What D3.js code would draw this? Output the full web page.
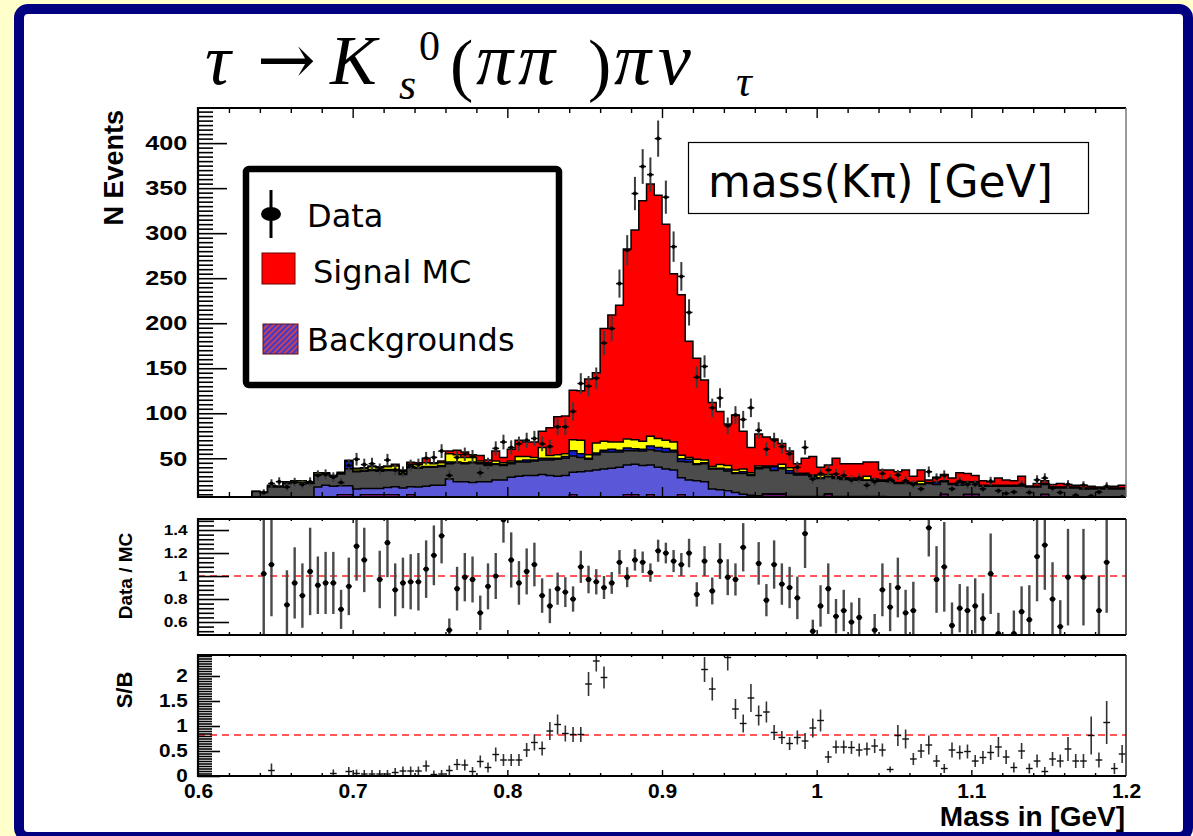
<!DOCTYPE html>
<html>
<head>
<meta charset="utf-8">
<script src="https://cdn.jsdelivr.net/npm/d3@7"></script>
<style>
  body { margin: 0; background: #ffffcc; }
  svg { display: block; }
</style>
</head>
<body>
<svg id="chart" width="1193" height="836"></svg>
<script>
// 120 bins of 0.005 GeV from 0.6 to 1.2 GeV
const binLo = 0.6, binW = 0.005;
const binEdges = d3.range(121).map(i => binLo + i * binW);

// stacked MC components, bottom to top (events per bin)
const bgMagenta = [0,0,0,0,0,0,0,6,6,6, 6,6,6,6,6,6,6.5,6.5,9.5,9.5, 6.5,9.5,9.5,9.5,9.5,9.5,6.5,9.5,6.5,6.5,
  6.5,6.5,6.5,6.5,6.5,6.5,6.5,6.5,6.5,6.5, 6.5,6.5,6.5,6.5,6.5,6.5,6.5,6.5,9.5,6.5, 6.5,6.5,6.5,6.5,6.5,9.5,9.5,6.5,9.5,6.5,
  6.5,6.5,9.5,6.5,6.5,6.5,6.5,6.5,6.5,6.5, 6.5,6.5,6.5,9.5,9.5,9.5,6.5,6.5,6.5,6.5, 6.5,9.5,6.5,6.5,6.5,6.5,6.5,6.5,6.5,6.5,
  6.5,6.5,6.5,6.5,6.5,6.5,9.5,6.5,6.5,9.5, 9.5,6.5,6.5,6.5,6.5,6.5,6.5,6.5,6.5,9.5, 6.5,6.5,6.5,6.5,6.5,6.5,6.5,6.5,6.5,6.5];
const bgSlate = [0,0,0,0,0,0,0,0,0,0, 0,0,0,0,0,12,13.5,12.5,10,10, 9.5,7,7,7,8,9,10.5,9,11.5,12.5,
  13.5,13.5,20.5,17.5,17.5,16.5,17.5,17.5,19.5,19.5, 22.5,23.5,24.5,24.5,25.5,24.5,23.5,24.5,25,28.5, 29.5,30.5,31.5,32.5,33.5,33,34,35.5,33,33.5,
  31.5,30.5,19,19.5,18.5,17.5,9.5,8.5,7.5,5.5, 3.5,2.5,2,1,1,1,1,1,1,1, 1,1,1,1,1,1,1,1,1,0.5,
  0.5,0.5,0.5,0.5,0.5,0.5,0.5,0.5,0.5,0.5, 0.5,0.5,0.5,0.5,0.5,0.5,0.5,0.5,0.5,0.5, 0.5,0.5,0.5,0.5,0.5,0.5,0.5,0.5,0.5,0.5];
const bgGray = [0,0,0,0,0,0,0,7,6,12, 12,16,17,17,16,14,13,11,13,19, 19,19,20,19,19,18,15,21,21,21,
  20,21,17,21,20,22,20,18,17,16, 15,16,15,16,16,17,19,19,18,16, 13,17,19,18,17,16,15,16,17,18,
  19,20,18,20,18,20,22,23,22,21, 23,22,30,29,26,28,26,24,24,22, 20,19,20,19,19,18,18,18,17,17,
  15,15,15,14,15,14,14,14,13,13, 13,12,12,12,12,12,12,11,11,11, 10,10,10,10,9,9,9,9,9,9];
const bgNavy = [0,0,0,0,0,0,0,0,0,0, 0,0.5,0,0,0,0,0,0,0,8, 1,1,1,1,1,1,1,1,1,1,
  1,1,2,1,1,1,1,1,1,1, 1,1,2,1,2,2,1,2,6,4, 1,2,2,3,2,3,2,2,4,4,
  4,2,3,3,1,1,1,1,2,1, 2,1,1,1,4,1,3,1,1,1, 1,0.5,1,1,0.5,0.5,0.5,0.5,0.5,0.5,
  0.5,0.5,0.5,0.5,0.5,2,0.5,0.5,2,0.5, 0.5,0.5,0.5,0.5,0.5,0.5,0.5,0.5,0.5,0.5, 0.5,0.5,0.5,0.5,0.5,0.5,0.5,0.5,0.5,0.5];
const bgYellow = [0,0,0,0,0,0,0,0,0,1.5, 1,1.5,2,2,1,2,1,1,1,1, 2,2,3,3,3,4,3,3,3,4,
  3,3,9,8,6,5,2,2,3,2, 2,5,4,3,12,3,4,3,12,15, 4,11,10,8,9,10,10,9,11,10,
  9,9,4,2,5,3,2,4,4,3, 3,2,2,1,1,4,3,1,1,1, 3,2,1,1,1,1,4,1,1,1,
  0.5,1,0.5,3,0.5,0.5,0.5,0.5,1,0.5, 0.5,0.5,0.5,0.5,0.5,0.5,0.5,0.5,0.5,0.5, 0.5,0.5,0.5,0.5,0.5,0.5,0.5,0.5,0.5,0.5];
const signalMC = [0,0,0,0,0,0,0,0,0,0.5, 0,0,0,0,0,0,0,0,1,0, 1,1,1,1,1,2,1,2,2,5,
  1,2,3,5,6,3,6,3,11,6, 13,18,16,17,18,31,42,42,55,55, 84,78,125,141,152,211,233,267,280,270,
  240,187,178,129,112,89,71,59,46,61, 42,28,35.5,32,30,23,18.5,10.5,16.5,20.5, 8.5,10.5,20.5,15.5,16,17,16,19,11,11.5,
  12,13.5,7,12.5,3,5.5,7,6,11,9, 7,5,4,8,6,5,10,0,3,3, 3,4,3,2,3,2,1,0,2,3];

// data counts and their errors (null = no entry)
const dataN = [null,null,null,null,null,null,null,null,12,22, 24,18,23.5,21,24,31,32,29,23,42, 49,43,44,38,48,37,35,42,43,50,
  51,58,31,51,54.5,52,34,44,61,68, 62,66,70,72,66,63,85,85,102,133, 130,139,178,194,244,281,344,374,365,405,
  340,285,252,212,140,152,106,117,86,98, 93,106,81,60,70,63,55,40,62,27, 33,37,32.5,31,26,28,20,24,33,27,
  31.5,25,21,16,35,28,31,16,24.5,21, 21,16,24.5,14,11,12.5,21,12,26,28, 17,12,21,9,20,8,12.6,19,6,7];
const dataErr = [0,0,0,0,0,0,0,0,3.5,4.7, 4.9,4.2,4.8,4.6,4.9,5.6,5.7,5.4,4.8,6.5, 7.0,6.6,6.6,6.2,6.9,6.1,5.9,6.5,6.6,7.1,
  7.1,7.6,5.6,7.1,7.4,7.2,5.8,6.6,7.8,8.2, 7.9,8.1,8.4,8.5,8.1,7.9,9.2,9.2,10.1,11.5, 11.4,11.8,13.3,13.9,15.6,16.8,18.5,19.3,19.1,20.1,
  18.4,16.9,15.9,14.6,11.8,12.3,10.3,10.8,9.3,9.9, 9.6,10.3,9.0,7.7,8.4,7.9,7.4,6.3,7.9,5.2, 5.7,6.1,5.7,5.6,5.1,5.3,4.5,4.9,5.7,5.2,
  5.6,5.0,4.6,4.0,5.9,5.3,5.6,4.0,4.9,4.6, 4.6,4.0,4.9,3.7,3.3,3.5,4.6,3.5,5.1,5.3, 4.1,3.5,4.6,3.0,4.5,2.8,3.5,4.4,2.4,2.6];

// Data / MC ratio and its half error
const ratio = [null,null,null,null,null,null,null,null,1.02,1.10, null,0.75,0.94,0.83,1.04,0.92,0.94,0.94,0.71,0.91, 1.26,1.14,null,0.97,1.29,0.88,0.94,0.95,0.95,1.06,
  1.18,1.35,0.53,0.89,0.99,0.97,0.68,0.91,1.00,1.49, 1.14,0.94,1.04,1.10,0.83,0.74,0.89,0.86,0.80,1.08, 0.97,0.95,0.90,0.94,1.12,0.99,1.14,1.12,1.03,1.22,
  1.20,1.13,1.10,1.20,0.84,1.13,0.87,1.13,0.99,0.97, 1.25,null,1.11,0.79,1.10,0.93,0.90,0.81,1.37,0.52, 0.74,0.89,0.65,0.70,0.60,0.64,null,0.53,0.88,0.73,
  0.90,0.68,0.70,null,1.42,0.97,1.08,0.57,0.72,0.70, 0.74,0.63,1.02,0.50,null,0.50,0.69,0.62,1.17,1.27, 0.80,0.56,0.99,null,0.99,null,0.70,1.12,null,null];
const ratioErr = [0,0,0,0,0,0,0,0,0.6,0.45, 0,0.3,0.31,0.28,0.38,0.25,0.27,0.27,0.17,0.25, 0.3,0.28,0,0.25,0.3,0.23,0.22,0.24,0.25,0.25,
  0.26,0.24,0.1,0.19,0.21,0.2,0.15,0.2,0.2,0.2, 0.24,0.19,0.2,0.19,0.15,0.15,0.14,0.13,0.11,0.14, 0.12,0.11,0.10,0.095,0.106,0.087,0.093,0.093,0.08,0.096,
  0.09,0.096,0.10,0.124,0.106,0.13,0.117,0.156,0.156,0.14, 0.21,0,0.185,0.14,0.21,0.18,0.18,0.185,0.3,0.1, 0.18,0.22,0.15,0.18,0.17,0.17,0,0.14,0.23,0.21,
  0.26,0.2,0.25,0,0.25,0.29,0.39,0.2,0.21,0.21, 0.24,0.22,0.35,0.18,0,0.2,0.22,0.3,0.39,0.39, 0.32,0.23,0.42,0,0.42,0,0.3,0.44,0,0];

// signal / background and its half error
const sOverB = [null,null,null,null,null,null,null,null,null,0.11, null,null,null,null,null,null,null,0.05,null,0.09, 0.05,0.04,0.04,0.04,0.04,0.07,0.10,0.10,0.10,0.20,
  0.03,0.04,0.11,0.23,0.22,0.09,0.29,0.17,0.43,0.32, 0.32,0.32,0.52,0.67,0.55,0.90,1.03,0.85,0.83,0.83, 1.84,2.30,1.97,null,null,null,null,null,null,null,
  null,null,null,null,null,2.13,1.74,null,2.37,1.34, 1.05,1.56,1.21,1.28,0.87,0.77,0.65,0.77,0.70,0.96, 1.11,0.38,0.58,0.58,0.57,0.52,0.54,0.60,0.52,0.13,
  0.81,0.74,0.34,0.50,0.62,0.30,0.15,0.52,0.47,0.49, 0.30,0.37,0.47,0.58,0.38,0.17,0.50,0.15,0.30,0.09, 0.34,0.30,0.54,0.30,0.30,0.81,0.32,1.07,0.15,0.44];
const sOverBErr = [0,0,0,0,0,0,0,0,0,0.08, 0,0,0,0,0,0,0,0.02,0,0.03, 0.02,0.02,0.02,0.02,0.02,0.03,0.03,0.03,0.03,0.05,
  0.02,0.02,0.04,0.05,0.05,0.03,0.06,0.04,0.08,0.06, 0.06,0.06,0.08,0.1,0.08,0.12,0.14,0.1,0.09,0.09, 0.18,0.15,0.16,0,0,0,0,0,0,0,
  0,0,0,0,0,0.19,0.17,0,0.2,0.14, 0.12,0.22,0.14,0.15,0.09,0.07,0.07,0.08,0.1,0.13, 0.16,0.06,0.07,0.07,0.07,0.07,0.07,0.08,0.07,0.0,
  0.15,0.13,0.06,0.08,0.13,0.06,0.03,0.09,0.08,0.08, 0.06,0.07,0.09,0.14,0.08,0.04,0.1,0.04,0.07,0.03, 0.08,0.07,0.18,0.08,0.08,0.32,0.09,0.37,0.05,0.12];

// tick values
const xMajor = [0.6, 0.7, 0.8, 0.9, 1.0, 1.1, 1.2];
const xLabels = ["0.6", "0.7", "0.8", "0.9", "1", "1.1", "1.2"];
const mainMajor = [50, 100, 150, 200, 250, 300, 350, 400];
const ratioMajor = [0.6, 0.8, 1.0, 1.2, 1.4];
const ratioLabels = ["0.6", "0.8", "1", "1.2", "1.4"];
const sbMajor = [0, 0.5, 1, 1.5, 2];
const sbLabels = ["0", "0.5", "1", "1.5", "2"];

const layerKeys = ["mag", "slate", "gray", "navy", "yellow", "sig"];
const layerColors = { mag: "#e020e0", slate: "#5a58d8", gray: "#4c4c4c", navy: "#1020d0", yellow: "#ffff00", sig: "#ff0000" };

// ---- layout ----
const svg = d3.select("#chart");
const left = 198, right = 1126;
const x = d3.scaleLinear().domain([0.6, 1.2]).range([left, right]);
const yMain = d3.scaleLinear().domain([7, 439]).range([497, 108]);
const yRatio = d3.scaleLinear().domain([0.487, 1.496]).range([635, 519]);
const ySB = d3.scaleLinear().domain([0, 2.42]).range([776, 655]);
const boldFont = "'Liberation Sans', Arial, sans-serif";

svg.append("rect").attr("width", 1193).attr("height", 836).attr("fill", "#ffffcc");
svg.append("rect").attr("x", 19).attr("y", 9).attr("width", 1169).attr("height", 828)
  .attr("rx", 9).attr("fill", "#ffffff").attr("stroke", "#000080").attr("stroke-width", 10);

const defs = svg.append("defs");
function clip(id, y0, y1) {
  defs.append("clipPath").attr("id", id).append("rect")
    .attr("x", left).attr("y", y0).attr("width", right - left).attr("height", y1 - y0);
}
clip("clipMain", 108, 497);
clip("clipRatio", 519, 635);
clip("clipSB", 655, 776);

const pat = defs.append("pattern").attr("id", "bgHatch").attr("patternUnits", "userSpaceOnUse")
  .attr("width", 4).attr("height", 4).attr("patternTransform", "rotate(45)");
pat.append("rect").attr("width", 2).attr("height", 4).attr("fill", "#3b3bd0");
pat.append("rect").attr("x", 2).attr("width", 2).attr("height", 4).attr("fill", "#c8405a");

// ---- stacked histogram ----
const rows = binEdges.slice(0, 120).map((e, i) => ({
  mag: bgMagenta[i], slate: bgSlate[i], gray: bgGray[i], navy: bgNavy[i], yellow: bgYellow[i], sig: signalMC[i]
}));
const series = d3.stack().keys(layerKeys)(rows);

const stepArea = d3.area().x(d => d[0]).y0(yMain(0)).y1(d => d[1]).curve(d3.curveLinear);
const gHist = svg.append("g").attr("clip-path", "url(#clipMain)");
series.slice().reverse().forEach(s => {
  const pts = [];
  s.forEach((d, i) => {
    pts.push([x(binEdges[i]), yMain(d[1])]);
    pts.push([x(binEdges[i + 1]), yMain(d[1])]);
  });
  gHist.append("path").attr("d", stepArea(pts))
    .attr("fill", layerColors[s.key]).attr("stroke", "#000").attr("stroke-width", 1.5)
    .attr("stroke-linejoin", "miter");
});

// data points
const gData = svg.append("g").attr("clip-path", "url(#clipMain)");
dataN.forEach((n, i) => {
  if (n === null) return;
  const cx = x(binEdges[i] + binW / 2);
  gData.append("line").attr("x1", cx).attr("x2", cx)
    .attr("y1", yMain(n - dataErr[i])).attr("y2", yMain(n + dataErr[i]))
    .attr("stroke", "#3a3a3a").attr("stroke-width", 2);
  gData.append("line").attr("x1", x(binEdges[i]) + 0.5).attr("x2", x(binEdges[i + 1]) - 0.5)
    .attr("y1", yMain(n)).attr("y2", yMain(n)).attr("stroke", "#000").attr("stroke-width", 1.5);
  gData.append("circle").attr("cx", cx).attr("cy", yMain(n)).attr("r", 2).attr("fill", "#000");
});

// ---- ratio panel ----
const gRatio = svg.append("g").attr("clip-path", "url(#clipRatio)");
gRatio.append("line").attr("x1", left).attr("x2", right).attr("y1", yRatio(1)).attr("y2", yRatio(1))
  .attr("stroke", "#ff2020").attr("stroke-width", 1.6).attr("stroke-dasharray", "7,5");
ratio.forEach((r, i) => {
  if (r === null) return;
  const cx = x(binEdges[i] + binW / 2);
  gRatio.append("line").attr("x1", cx).attr("x2", cx)
    .attr("y1", yRatio(r - ratioErr[i])).attr("y2", yRatio(r + ratioErr[i]))
    .attr("stroke", "#4a4a4a").attr("stroke-width", 2.4);
  gRatio.append("line").attr("x1", cx - 3).attr("x2", cx + 3).attr("y1", yRatio(r)).attr("y2", yRatio(r))
    .attr("stroke", "#000").attr("stroke-width", 1.5);
  gRatio.append("circle").attr("cx", cx).attr("cy", yRatio(r)).attr("r", 2.6).attr("fill", "#000");
});

// ---- S/B panel ----
const gSB = svg.append("g").attr("clip-path", "url(#clipSB)");
gSB.append("line").attr("x1", left).attr("x2", right).attr("y1", ySB(0.82)).attr("y2", ySB(0.82))
  .attr("stroke", "#ff2020").attr("stroke-width", 1.6).attr("stroke-dasharray", "7,5");
sOverB.forEach((v, i) => {
  if (v === null) return;
  const cx = x(binEdges[i] + binW / 2);
  gSB.append("line").attr("x1", cx).attr("x2", cx)
    .attr("y1", ySB(v - sOverBErr[i]) + 3).attr("y2", ySB(v + sOverBErr[i]) - 3)
    .attr("stroke", "#333").attr("stroke-width", 1.6);
  gSB.append("line").attr("x1", x(binEdges[i]) + 0.5).attr("x2", x(binEdges[i + 1]) - 0.5)
    .attr("y1", ySB(v)).attr("y2", ySB(v)).attr("stroke", "#111").attr("stroke-width", 1.4);
});

// ---- axes and frames ----
function minorTicks(lo, hi, step, majors) {
  return d3.range(lo, hi + step / 2, step).map(v => +v.toFixed(4))
    .filter(v => !majors.some(m => Math.abs(m - v) < 1e-6));
}
function yAxis(scale, majors, minors, majLen, minLen, labels, fontSize, stretch) {
  const g = svg.append("g").attr("transform", `translate(${left},0)`);
  g.append("g").call(d3.axisLeft(scale).tickValues(minors).tickSize(-minLen).tickFormat(""))
    .call(a => a.select(".domain").remove());
  const gm = g.append("g").call(d3.axisLeft(scale).tickValues(majors).tickSize(-majLen).tickPadding(9)
    .tickFormat((d, i) => labels[i]));
  gm.select(".domain").remove();
  g.selectAll("line").attr("stroke", "#000").attr("stroke-width", 1.6);
  gm.selectAll("text").attr("font-family", boldFont).attr("font-weight", "bold")
    .attr("font-size", fontSize).attr("fill", "#000").attr("transform", `scale(${stretch},1)`);
  return gm;
}
function xTicks(yPos, dir, majLen, minLen) {
  const mk = dir > 0 ? d3.axisBottom : d3.axisTop;
  const g = svg.append("g").attr("transform", `translate(0,${yPos})`);
  g.append("g").call(mk(x).tickValues(minorTicks(0.6, 1.2, 0.02, xMajor)).tickSize(minLen).tickFormat(""));
  g.append("g").call(mk(x).tickValues(xMajor.slice(1, -1)).tickSize(majLen).tickFormat(""));
  g.selectAll(".domain").remove();
  g.selectAll("line").attr("stroke", "#000").attr("stroke-width", 1.4);
}

yAxis(yMain, mainMajor, minorTicks(10, 435, 5, mainMajor), 29, 15,
  mainMajor.map(String), "21px", 1.2);
yAxis(yRatio, ratioMajor, minorTicks(0.52, 1.48, 0.04, ratioMajor), 31, 16,
  ratioLabels, "15px", 1.15);
yAxis(ySB, sbMajor, minorTicks(0.05, 2.4, 0.05, sbMajor), 22, 14,
  sbLabels, "18px", 1.15);

xTicks(108, 1, 10, 5);
xTicks(497, -1, 10, 5);
xTicks(519, 1, 4, 2);
xTicks(635, -1, 5, 3);
xTicks(655, 1, 4, 2);
xTicks(776, -1, 6, 3);

// frames
function frame(y0, y1, rightColor) {
  svg.append("path").attr("d", `M${right},${y0} H${left} V${y1} H${right}`)
    .attr("fill", "none").attr("stroke", "#000").attr("stroke-width", 2.2);
  svg.append("line").attr("x1", right).attr("x2", right).attr("y1", y0).attr("y2", y1)
    .attr("stroke", rightColor).attr("stroke-width", 1.5);
}
frame(108, 497, "#777");
frame(519, 635, "#222");
frame(655, 776, "#222");

// x labels under S/B
const gxl = svg.append("g").attr("transform", "translate(0,776)")
  .call(d3.axisBottom(x).tickValues(xMajor).tickSize(0).tickPadding(7).tickFormat((d, i) => xLabels[i]));
gxl.select(".domain").remove();
gxl.selectAll("text").attr("font-family", boldFont).attr("font-weight", "bold")
  .attr("font-size", "21px").attr("fill", "#000");

// axis titles
function vTitle(txt, cx, cy, size, anchor) {
  svg.append("text").attr("transform", `translate(${cx},${cy}) rotate(-90)`)
    .attr("text-anchor", anchor).attr("font-family", boldFont).attr("font-weight", "bold")
    .attr("font-size", size).attr("fill", "#000").text(txt);
}
vTitle("N Events", 123, 110, "27px", "end");
vTitle("Data / MC", 132, 576, "19px", "middle");
vTitle("S/B", 132, 690, "22px", "middle");
svg.append("text").attr("x", 1125).attr("y", 826).attr("text-anchor", "end")
  .attr("font-family", boldFont).attr("font-weight", "bold").attr("font-size", "28px").text("Mass in [GeV]");

// ---- title: tau -> K_s^0 (pi pi) pi nu_tau ----
const serif = "'Liberation Serif', 'DejaVu Serif', serif";
const titleGlyphs = [
  { t: "τ", x: 205, y: 84, s: 72, it: true, f: serif },
  { t: "→", x: 257, y: 84, s: 70, it: false, f: "'DejaVu Serif', serif" },
  { t: "K", x: 330, y: 84, s: 70, it: true, f: serif },
  { t: "s", x: 399, y: 99, s: 44, it: true, f: serif },
  { t: "0", x: 419, y: 60, s: 42, it: false, f: serif },
  { t: "(", x: 450, y: 88, s: 70, it: false, f: serif },
  { t: "π", x: 476, y: 84, s: 74, it: true, f: serif },
  { t: "π", x: 518, y: 84, s: 74, it: true, f: serif },
  { t: ")", x: 588, y: 88, s: 70, it: false, f: serif },
  { t: "π", x: 614, y: 84, s: 74, it: true, f: serif },
  { t: "ν", x: 658, y: 84, s: 74, it: true, f: serif },
  { t: "τ", x: 736, y: 96, s: 44, it: true, f: serif }
];
svg.append("g").selectAll("text").data(titleGlyphs).join("text")
  .attr("x", d => d.x).attr("y", d => d.y).attr("font-size", d => d.s)
  .attr("font-style", d => d.it ? "italic" : "normal")
  .attr("font-family", d => d.f).attr("fill", "#000").text(d => d.t);

// ---- legend ----
const sans = "'DejaVu Sans', Verdana, sans-serif";
svg.append("rect").attr("x", 246).attr("y", 169).attr("width", 313).attr("height", 216).attr("rx", 3)
  .attr("fill", "#fff").attr("stroke", "#000").attr("stroke-width", 6.5);
svg.append("line").attr("x1", 271).attr("x2", 271).attr("y1", 190).attr("y2", 238)
  .attr("stroke", "#000").attr("stroke-width", 3);
svg.append("ellipse").attr("cx", 271).attr("cy", 214).attr("rx", 10).attr("ry", 7).attr("fill", "#000");
svg.append("rect").attr("x", 262).attr("y", 253).attr("width", 33).attr("height", 31)
  .attr("fill", "#ff0000").attr("stroke", "#6a0000").attr("stroke-width", 1);
svg.append("rect").attr("x", 263).attr("y", 324).attr("width", 35).attr("height", 30)
  .attr("fill", "url(#bgHatch)").attr("stroke", "#5a1020").attr("stroke-width", 1);
const legendItems = [
  { t: "Data", x: 307, y: 227 },
  { t: "Signal MC", x: 313, y: 283 },
  { t: "Backgrounds", x: 307, y: 351 }
];
svg.append("g").selectAll("text").data(legendItems).join("text")
  .attr("x", d => d.x).attr("y", d => d.y).attr("font-family", sans).attr("font-size", "32px")
  .attr("fill", "#000").text(d => d.t);

// ---- mass(K pi) box ----
svg.append("rect").attr("x", 688.5).attr("y", 142.5).attr("width", 400).attr("height", 71)
  .attr("fill", "#fff").attr("stroke", "#000").attr("stroke-width", 1.2);
svg.append("text").attr("x", 708).attr("y", 197).attr("font-family", sans).attr("font-size", "44px")
  .attr("fill", "#000").text("mass(Kπ) [GeV]");
</script>
</body>
</html>
